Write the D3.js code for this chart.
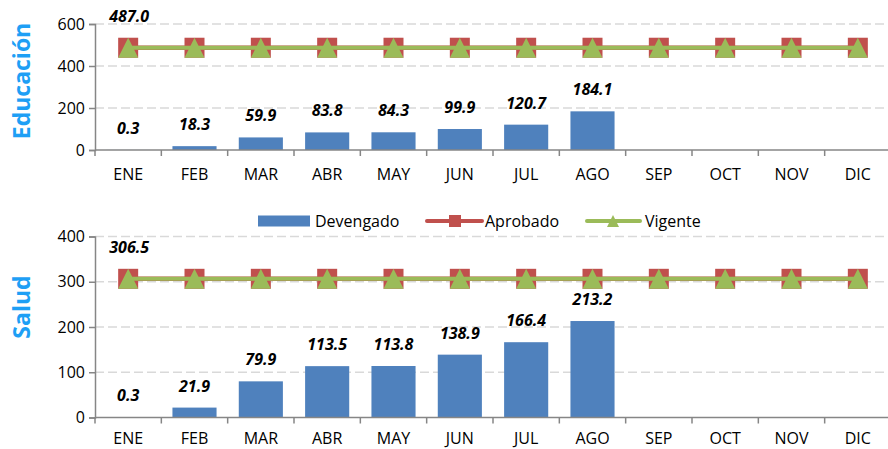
<!DOCTYPE html>
<html><head><meta charset="utf-8">
<script src="https://cdn.jsdelivr.net/npm/d3@7"></script>
<style>body{margin:0;background:#fff;}svg{display:block;font-family:"Open Sans",sans-serif;}</style>
</head><body><svg id="c" width="888" height="449"></svg>
<script>
const months = ["ENE","FEB","MAR","ABR","MAY","JUN","JUL","AGO","SEP","OCT","NOV","DIC"];
const eduDevengado = [0.3,18.3,59.9,83.8,84.3,99.9,120.7,184.1,null,null,null,null];
const eduAprobado = [487.0,487.0,487.0,487.0,487.0,487.0,487.0,487.0,487.0,487.0,487.0,487.0];
const eduVigente = [487.0,487.0,487.0,487.0,487.0,487.0,487.0,487.0,487.0,487.0,487.0,487.0];
const eduTicks = [0,200,400,600];
const salDevengado = [0.3,21.9,79.9,113.5,113.8,138.9,166.4,213.2,null,null,null,null];
const salAprobado = [306.5,306.5,306.5,306.5,306.5,306.5,306.5,306.5,306.5,306.5,306.5,306.5];
const salVigente = [306.5,306.5,306.5,306.5,306.5,306.5,306.5,306.5,306.5,306.5,306.5,306.5];
const salTicks = [0,100,200,300,400];
const legendNames = ["Devengado","Aprobado","Vigente"];

const C_BAR="#4F81BD", C_RED="#C0504D", C_GREEN="#9BBB59", C_AXIS="#868686", C_TITLE="#1E9FF5";
const svg = d3.select("#c");
const X0=95, X1=891;
const x = d3.scaleBand().domain(months).range([X0,X1]).paddingInner(0.335).paddingOuter(0.1675);
const xb = d3.scaleBand().domain(months).range([X0,X1]);

function panel(title, dev, apr, vig, ticks, yTop, yBot, labY, titleCy){
  const y = d3.scaleLinear().domain([0, d3.max(ticks)]).range([yBot,yTop]);
  const g = svg.append("g");
  g.selectAll(".grid").data(ticks.filter(t=>t>0)).join("line")
    .attr("x1",X0).attr("x2",888).attr("y1",d=>y(d)).attr("y2",d=>y(d))
    .attr("stroke","#D9D9D9").attr("stroke-width",1.5).attr("stroke-dasharray","9,4");
  const ya = g.append("g").attr("transform",`translate(${X0},0)`)
    .call(d3.axisLeft(y).tickValues(ticks).tickSize(6).tickPadding(4).tickFormat(d3.format("d")));
  ya.select(".domain").attr("stroke",C_AXIS).attr("stroke-width",1.5);
  ya.selectAll(".tick line").attr("stroke",C_AXIS).attr("stroke-width",1.5);
  ya.selectAll("text").attr("font-size",16).attr("fill","#000").attr("font-family","Open Sans");
  const bd = dev.map((v,i)=>({m:months[i],v})).filter(d=>d.v!=null);
  g.selectAll(".bar").data(bd).join("rect")
    .attr("x",d=>x(d.m)).attr("width",x.bandwidth())
    .attr("y",d=>y(d.v)).attr("height",d=>yBot-y(d.v)).attr("fill",C_BAR);
  g.append("line").attr("x1",X0).attr("x2",X1).attr("y1",yBot).attr("y2",yBot)
    .attr("stroke",C_AXIS).attr("stroke-width",1.5);
  g.selectAll(".xt").data(months.map((m,i)=>i)).join("line")
    .attr("x1",i=>xb(months[i])).attr("x2",i=>xb(months[i]))
    .attr("y1",yBot).attr("y2",yBot+6).attr("stroke",C_AXIS).attr("stroke-width",1.5);
  g.selectAll(".xl").data(months).join("text")
    .attr("x",d=>xb(d)+xb.bandwidth()/2).attr("y",labY)
    .attr("text-anchor","middle").attr("font-size",16).text(d=>d);
  const cx = i=>xb(months[i])+xb.bandwidth()/2;
  const line = d3.line().x((d,i)=>cx(i)).y(d=>y(d));
  g.append("path").attr("d",line(apr)).attr("fill","none").attr("stroke",C_RED).attr("stroke-width",4.5);
  g.selectAll(".sq").data(apr).join("rect")
    .attr("x",(d,i)=>cx(i)-10).attr("y",d=>y(d)-10).attr("width",20).attr("height",20).attr("fill",C_RED);
  g.append("path").attr("d",line(vig)).attr("fill","none").attr("stroke",C_GREEN).attr("stroke-width",4);
  g.selectAll(".tri").data(vig).join("path")
    .attr("d",(d,i)=>{const px=cx(i), py=y(d); return `M${px-10},${py+10}L${px},${py-10}L${px+10},${py+10}Z`;})
    .attr("fill",C_GREEN);
  g.selectAll(".bl").data(bd).join("text")
    .attr("x",d=>x(d.m)+x.bandwidth()/2).attr("y",d=>y(d.v)-16)
    .attr("text-anchor","middle").attr("font-size",16).attr("font-weight","bold").attr("font-style","italic")
    .text(d=>d3.format(".1f")(d.v));
  g.append("text").attr("x",cx(0)+1).attr("y",y(vig[0])-26)
    .attr("text-anchor","middle").attr("font-size",16).attr("font-weight","bold").attr("font-style","italic")
    .text(d3.format(".1f")(vig[0]));
  g.append("text").attr("transform",`translate(30,${titleCy}) rotate(-90)`)
    .attr("text-anchor","middle").attr("font-size",23).attr("font-weight","bold").attr("fill",C_TITLE).text(title);
}
panel("Educación", eduDevengado, eduAprobado, eduVigente, eduTicks, 24, 150, 180, 81);
panel("Salud", salDevengado, salAprobado, salVigente, salTicks, 236.5, 417.5, 444, 307);

const lg = svg.append("g").attr("font-size",16);
const LY=221;
lg.append("rect").attr("x",258).attr("y",LY-5.5).attr("width",52).attr("height",11).attr("fill",C_BAR);
lg.append("text").attr("x",315).attr("y",LY+5.5).text(legendNames[0]);
lg.append("line").attr("x1",427).attr("x2",482).attr("y1",LY).attr("y2",LY).attr("stroke",C_RED).attr("stroke-width",4).attr("stroke-linecap","round");
lg.append("rect").attr("x",449).attr("y",LY-6).attr("width",12).attr("height",12).attr("fill",C_RED);
lg.append("text").attr("x",485).attr("y",LY+5.5).text(legendNames[1]);
lg.append("line").attr("x1",587).attr("x2",640).attr("y1",LY).attr("y2",LY).attr("stroke",C_GREEN).attr("stroke-width",4).attr("stroke-linecap","round");
lg.append("path").attr("d",`M${607},${LY+6}L${613},${LY-6}L${619},${LY+6}Z`).attr("fill",C_GREEN);
lg.append("text").attr("x",645).attr("y",LY+5.5).text(legendNames[2]);
</script></body></html>
